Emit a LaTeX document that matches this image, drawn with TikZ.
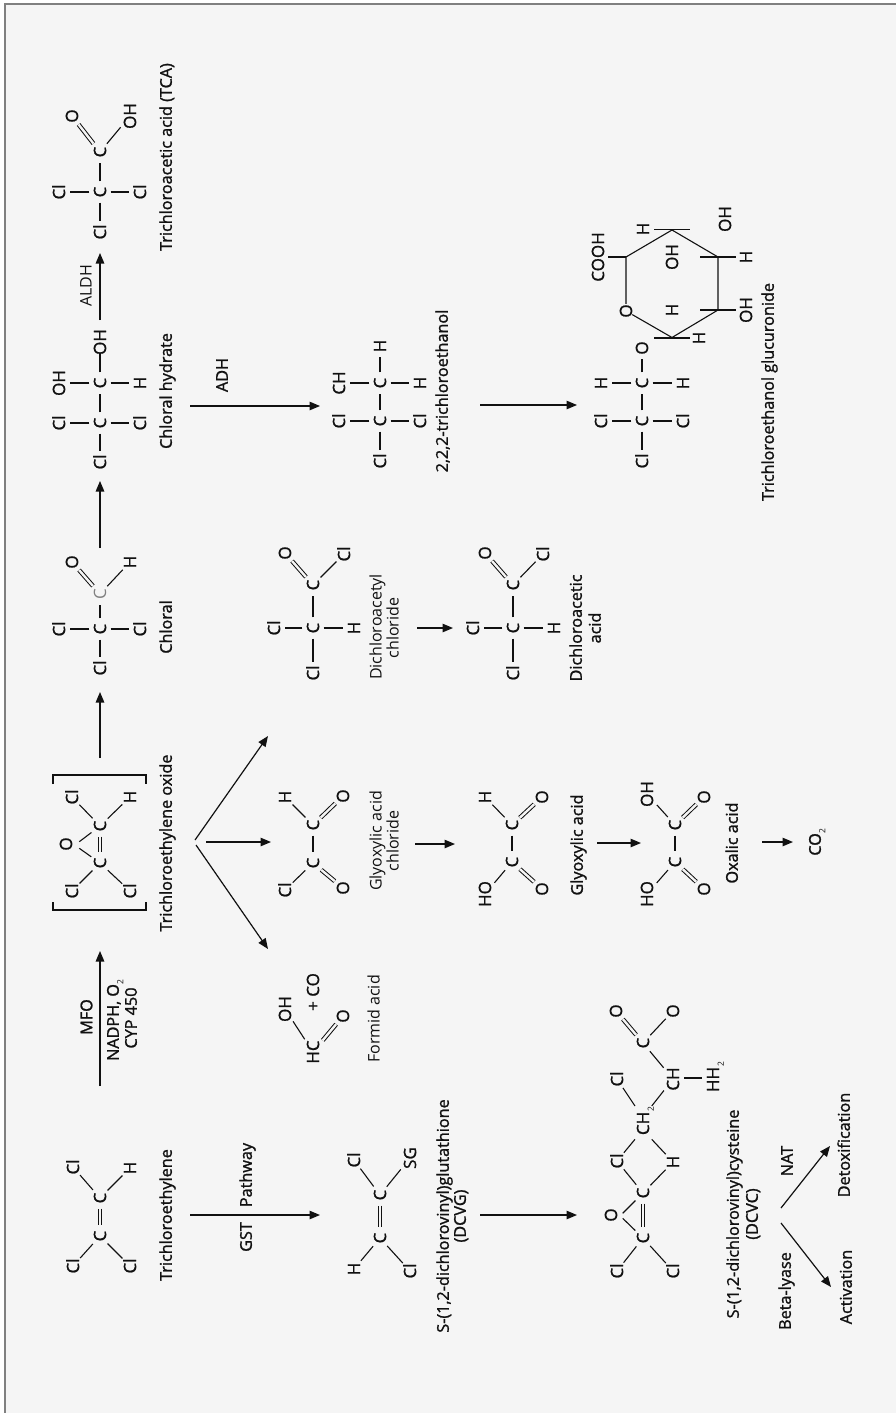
\documentclass[tikz,border=0pt]{standalone}
\usepackage{fontspec}
\usetikzlibrary{arrows.meta}
\setmainfont{Open Sans}
\newfontfamily\atomfont[FakeBold=1.0]{Open Sans}
\newfontfamily\strongfont[FakeBold=1.4]{Open Sans}
\definecolor{paper}{HTML}{F5F5F5}
\definecolor{ink}{HTML}{111111}
\newcommand\ctr[1]{\raisebox{-.357em}[0pt][0pt]{\makebox[0pt]{#1}}}
\newcommand\lowtwo{\raisebox{-.28em}{\fontsize{8.5}{9}\selectfont\normalfont 2}}
\newcommand\atm[5][]{\node[atom,#1] (#2) at (#3,#4) {\ctr{#5}};}
\newcommand\lbl[5][txt]{\node[#1] (#2) at (#3,#4) {\ctr{#5}};}
\tikzset{
  atom/.style={circle,inner sep=0pt,minimum size=21pt,rotate=90,font=\atomfont\fontsize{17}{17}\selectfont,text=ink},
  big/.style={minimum size=29pt},
  txt/.style={inner sep=0pt,rotate=90,font=\fontsize{16}{18}\selectfont,text=ink},
  stg/.style={inner sep=0pt,rotate=90,font=\strongfont\fontsize{16.2}{18}\selectfont,text=ink},
  bond/.style={draw=ink,line width=1.1pt},
  dbond/.style={draw=ink,line width=1pt,double=paper,double distance=2.4pt},
  react/.style={draw=ink,line width=1.2pt,-{Triangle[length=10.5pt,width=8.5pt]}}
}
\begin{document}
\begin{tikzpicture}[x=1pt,y=-1pt]
\useasboundingbox (0,0) rectangle (896,1413);
\fill[white] (0,0) rectangle (896,1413);
\fill[paper] (5,4) rectangle (896,1413);
\draw[color=gray,line width=1.5pt] (5,1413) -- (5,4) -- (896,4);
% Trichloroacetic acid
\atm{ta}{100}{192}{C}\atm{tb}{100}{152}{C}\atm{tc}{100}{232}{Cl}\atm{td}{59}{192}{Cl}\atm{te}{140}{192}{Cl}
\atm{tf}{72}{116}{O}\atm[big]{tg}{130}{116}{OH}
\foreach \a/\b in {ta/tb,ta/tc,ta/td,ta/te,tb/tg} \draw[bond] (\a)--(\b);
\draw[dbond] (tb)--(tf);
\lbl[stg]{tca}{166}{157}{Trichloroacetic acid (TCA)}
\lbl{aldh}{86}{286}{ALDH}
\coordinate (aldhs) at (100,320); \coordinate (aldhe) at (100,253);
\draw[react] (aldhs)--(aldhe);
% Chloral hydrate
\atm{ha}{100}{423}{C}\atm{hb}{100}{383}{C}\atm{hc}{100}{462}{Cl}\atm{hd}{59}{423}{Cl}\atm{he}{140}{423}{Cl}
\atm{hf}{59}{383}{OH}\atm{hg}{140}{383}{H}\atm{hh}{100}{342}{OH}
\foreach \a/\b in {ha/hb,ha/hc,ha/hd,ha/he,hb/hf,hb/hg,hb/hh} \draw[bond] (\a)--(\b);
\lbl[stg]{hl}{166}{391}{Chloral hydrate}
% Chloral
\atm{ca}{100}{629}{C}\atm[text=gray,font=\fontsize{17}{17}\selectfont]{cb}{100}{594}{C}\atm{cc}{100}{668}{Cl}\atm{cd}{59}{629}{Cl}\atm{ce}{140}{629}{Cl}
\atm{cf}{72}{562}{O}\atm{cg}{130}{562}{H}
\foreach \a/\b in {ca/cb,ca/cc,ca/cd,ca/ce,cb/cg} \draw[bond] (\a)--(\b);
\draw[dbond] (cb)--(cf);
\lbl[stg]{cl}{166}{627}{Chloral}
\coordinate (c2hs) at (100,548); \coordinate (c2he) at (100,481);
\draw[react] (c2hs)--(c2he);
% Trichloroethylene oxide
\atm{oa}{100}{826}{C}\atm{ob}{100}{863}{C}\atm{oc}{72}{797}{Cl}\atm{od}{130}{797}{H}\atm{oe}{72}{891}{Cl}\atm{of}{130}{891}{Cl}
\atm[minimum size=2pt]{og}{66}{844}{O}
\coordinate (ogu) at (79.3,841.7); \coordinate (ogd) at (79.3,848.3);
\foreach \a/\b in {oa/oc,oa/od,ob/oe,ob/of,oa/ogu,ob/ogd} \draw[bond] (\a)--(\b);
\draw[dbond] (oa)--(ob);
\coordinate (bt1) at (53,784);\coordinate (bt2) at (53,775);\coordinate (bt3) at (146,775);\coordinate (bt4) at (146,784);
\coordinate (bb1) at (53,902);\coordinate (bb2) at (53,910);\coordinate (bb3) at (146,910);\coordinate (bb4) at (146,902);
\draw[bond] (bt1)--(bt2)--(bt3)--(bt4);
\draw[bond] (bb1)--(bb2)--(bb3)--(bb4);
\lbl[stg]{ol}{166}{843}{Trichloroethylene oxide}
\coordinate (o2cs) at (100,758); \coordinate (o2ce) at (100,692);
\draw[react] (o2cs)--(o2ce);
% MFO arrow
\coordinate (mfos) at (100,1086); \coordinate (mfoe) at (100,951);
\draw[react] (mfos)--(mfoe);
\lbl[stg]{mfo}{86.5}{1017}{MFO}
\lbl[stg]{nadph}{113}{1020}{NADPH, O\lowtwo}
\lbl[stg]{cyp}{131}{1018}{CYP 450}
% Trichloroethylene
\atm{ea}{100}{1198}{C}\atm{eb}{100}{1236}{C}\atm{ec}{73}{1167}{Cl}\atm{ed}{130}{1168}{H}\atm{ee}{73}{1266}{Cl}\atm{ef}{130}{1266}{Cl}
\foreach \a/\b in {ea/ec,ea/ed,eb/ee,eb/ef} \draw[bond] (\a)--(\b);
\draw[dbond] (ea)--(eb);
\lbl[stg]{el}{166}{1215}{Trichloroethylene}
% GST arrow
\coordinate (gsts) at (190,1215); \coordinate (gste) at (320,1215);
\draw[react] (gsts)--(gste);
\lbl[stg]{gst}{246}{1237}{GST}
\lbl[stg]{pw}{246}{1175}{Pathway}
% DCVG
\atm{ga}{380}{1195}{C}\atm{gb}{380}{1238}{C}\atm{gc}{354}{1160}{Cl}\atm[big]{gd}{410}{1158}{SG}\atm{ge}{354}{1269}{H}\atm{gf}{410}{1271}{Cl}
\foreach \a/\b in {ga/gc,ga/gd,gb/ge,gb/gf} \draw[bond] (\a)--(\b);
\draw[dbond] (ga)--(gb);
\lbl[stg]{gl}{443}{1216}{S-(1,2-dichlorovinyl)glutathione}
\lbl[stg]{gl2}{460}{1216}{(DCVG)}
\coordinate (g2vs) at (480,1215); \coordinate (g2ve) at (577,1215);
\draw[react] (g2vs)--(g2ve);
% DCVC
\atm{va}{643}{1193}{C}\atm{vb}{643}{1238}{C}\atm[minimum size=2pt]{vo}{611}{1215}{O}
\atm{vc}{617}{1271}{Cl}\atm{vd}{673}{1271}{Cl}\atm{ve}{617}{1161}{Cl}\atm{vf}{673}{1162}{H}
\atm[minimum size=2pt]{vg}{643}{1121}{CH\lowtwo}\atm{vh}{617}{1079}{Cl}\atm[big]{vi}{673}{1079}{CH}
\atm{vj}{643}{1043}{C}\atm{vk}{616}{1011}{O}\atm{vl}{673}{1011}{O}\atm{vm}{713}{1077}{HH\lowtwo}
\coordinate (voa) at (622.7,1213.3); \coordinate (vob) at (622.7,1218.3);
\coordinate (vg1) at (635,1139.3); \coordinate (vg2) at (651.7,1139.3); \coordinate (vg3) at (635,1106); \coordinate (vg4) at (651.7,1106);
\coordinate (vma) at (684,1078); \coordinate (vmb) at (702,1078);
\foreach \a/\b in {va/voa,vb/vob,vb/vc,vb/vd,va/ve,va/vf,ve/vg1,vf/vg2,vh/vg3,vi/vg4,vi/vj,vj/vl,vma/vmb} \draw[bond] (\a)--(\b);
\draw[dbond] (va)--(vb);
\draw[dbond] (vj)--(vk);
\lbl[stg]{vl1}{733}{1214}{S-(1,2-dichlorovinyl)cysteine}
\lbl[stg]{vl2}{752}{1214}{(DCVC)}
\coordinate (vus) at (781,1208); \coordinate (vue) at (830,1146);
\coordinate (vds) at (781,1223); \coordinate (vde) at (831,1287);
\draw[react] (vus)--(vue);
\draw[react] (vds)--(vde);
\lbl[stg]{nat}{787}{1161}{NAT}
\lbl[stg]{bl}{785}{1291}{Beta-lyase}
\lbl[stg]{det}{844}{1145}{Detoxification}
\lbl[stg]{act}{846}{1287}{Activation}
% Formid acid
\atm[minimum size=30pt]{fa}{313}{1052}{HC}\atm[big]{fb}{285}{1009}{OH}\atm{fc}{343}{1016}{O}
\lbl[atom]{fd}{313}{992}{+ CO}
\draw[bond] (fa)--(fb);
\draw[dbond] (fa)--(fc);
\lbl{fl}{374}{1019}{Formid acid}
% Branching arrows
\coordinate (bus) at (195,840); \coordinate (bue) at (268,736);
\coordinate (bms) at (206,842); \coordinate (bme) at (271,842);
\coordinate (bds) at (196,845); \coordinate (bde) at (268,949);
\draw[react] (bus)--(bue);
\draw[react] (bms)--(bme);
\draw[react] (bds)--(bde);
% Glyoxylic acid chloride
\atm{ya}{313}{825}{C}\atm{yb}{313}{863}{C}\atm{yc}{285}{797}{H}\atm{yd}{343}{796}{O}\atm{ye}{285}{890}{Cl}\atm{yf}{343}{888}{O}
\foreach \a/\b in {ya/yb,ya/yc,yb/ye} \draw[bond] (\a)--(\b);
\draw[dbond] (ya)--(yd);
\draw[dbond] (yb)--(yf);
\lbl{yl1}{376}{841}{Glyoxylic acid}
\lbl{yl2}{393}{841}{chloride}
\coordinate (y2gs) at (415,844); \coordinate (y2ge) at (455,844);
\draw[react] (y2gs)--(y2ge);
% Glyoxylic acid
\atm{za}{512}{825}{C}\atm{zb}{512}{862}{C}\atm{zc}{485}{797}{H}\atm{zd}{542}{797}{O}\atm[big]{ze}{485}{894}{HO}\atm{zf}{542}{889}{O}
\foreach \a/\b in {za/zb,za/zc,zb/ze} \draw[bond] (\a)--(\b);
\draw[dbond] (za)--(zd);
\draw[dbond] (zb)--(zf);
\lbl[stg]{zl}{577}{845}{Glyoxylic acid}
\coordinate (z2xs) at (597,843); \coordinate (z2xe) at (641,843);
\draw[react] (z2xs)--(z2xe);
% Oxalic acid
\atm{xa}{675}{825}{C}\atm{xb}{675}{862}{C}\atm[big]{xc}{647}{794}{OH}\atm{xd}{704}{797}{O}\atm[big]{xe}{647}{894}{HO}\atm{xf}{704}{889}{O}
\foreach \a/\b in {xa/xb,xa/xc,xb/xe} \draw[bond] (\a)--(\b);
\draw[dbond] (xa)--(xd);
\draw[dbond] (xb)--(xf);
\lbl[stg]{xl}{732}{843}{Oxalic acid}
\coordinate (x2cs) at (762,842); \coordinate (x2ce) at (793,842);
\draw[react] (x2cs)--(x2ce);
\lbl[stg]{co}{815}{842}{CO\lowtwo}
% Dichloroacetyl chloride
\atm{da}{313}{628}{C}\atm{db}{313}{585}{C}\atm{dc}{313}{673}{Cl}\atm{dd}{274}{628}{Cl}\atm{de}{354}{628}{H}\atm{df}{285}{553}{O}\atm{dg}{344}{554}{Cl}
\foreach \a/\b in {da/db,da/dc,da/dd,da/de,db/dg} \draw[bond] (\a)--(\b);
\draw[dbond] (db)--(df);
\lbl{dl1}{376}{627}{Dichloroacetyl}
\lbl{dl2}{393}{628}{chloride}
\coordinate (d2as) at (417,628); \coordinate (d2ae) at (453,628);
\draw[react] (d2as)--(d2ae);
% Dichloroacetic acid
\atm{ia}{513}{628}{C}\atm{ib}{513}{585}{C}\atm{ic}{513}{673}{Cl}\atm{id}{473}{628}{Cl}\atm{ie}{554}{628}{H}\atm{if}{485}{553}{O}\atm{ig}{543}{554}{Cl}
\foreach \a/\b in {ia/ib,ia/ic,ia/id,ia/ie,ib/ig} \draw[bond] (\a)--(\b);
\draw[dbond] (ib)--(if);
\lbl[stg]{il1}{576}{628}{Dichloroacetic}
\lbl[stg]{il2}{595}{628}{acid}
% 2,2,2-trichloroethanol
\atm{na}{380}{421}{C}\atm{nb}{380}{383}{C}\atm{nc}{380}{461}{Cl}\atm{nd}{339}{421}{Cl}\atm{ne}{420}{421}{Cl}\atm{nf}{339}{383}{CH}\atm{ng}{420}{383}{H}\atm{nh}{380}{346}{H}
\foreach \a/\b in {na/nb,na/nc,na/nd,na/ne,nb/nf,nb/ng,nb/nh} \draw[bond] (\a)--(\b);
\lbl[stg]{nl}{442}{391}{2,2,2-trichloroethanol}
\coordinate (adhs) at (190,406); \coordinate (adhe) at (320,406);
\draw[react] (adhs)--(adhe);
\lbl[stg]{adh}{222}{375}{ADH}
\coordinate (n2gs) at (480,405); \coordinate (n2ge) at (577,405);
\draw[react] (n2gs)--(n2ge);
% Trichloroethanol glucuronide
\atm{ua}{642}{421}{C}\atm{ub}{642}{383}{C}\atm{uc}{642}{461}{Cl}\atm{ud}{601}{421}{Cl}\atm{ue}{683}{421}{Cl}\atm{uf}{601}{383}{H}\atm{ug}{683}{383}{H}\atm{uh}{642}{348}{O}
\foreach \a/\b in {ua/ub,ua/uc,ua/ud,ua/ue,ub/uf,ub/ug,ub/uh} \draw[bond] (\a)--(\b);
\atm[minimum size=14pt]{ro}{626}{311}{O}
\coordinate (r1) at (626,257);\coordinate (r2) at (672,230);\coordinate (r3) at (718,257);\coordinate (r4) at (718,310);\coordinate (r5) at (672,337.5);
\draw[bond] (ro)--(r1)--(r2)--(r3)--(r4)--(r5)--(ro);
\coordinate (s1) at (608,257);\coordinate (s2a) at (654,229.5);\coordinate (s2b) at (690,229.5);\coordinate (s3a) at (700,257);\coordinate (s3b) at (736,257);
\coordinate (s4a) at (700,310);\coordinate (s4b) at (736,310);\coordinate (s5a) at (654,338);\coordinate (s5b) at (690,338);
\draw[bond] (s1)--(r1);\draw[bond] (s2a)--(s2b);\draw[bond] (s3a)--(s3b);\draw[bond] (s4a)--(s4b);\draw[bond] (s5a)--(s5b);
\atm{rc}{598}{257}{COOH}\atm{rh}{643}{229}{H}\atm{ri}{725}{219}{OH}\atm{rj}{672}{257}{OH}\atm{rk}{746}{257}{H}\atm{rl}{746}{310}{OH}\atm{rm}{672}{310}{H}\atm{rn}{699}{338}{H}
\lbl[stg]{ul}{768}{392}{Trichloroethanol glucuronide}
\end{tikzpicture}
\end{document}
